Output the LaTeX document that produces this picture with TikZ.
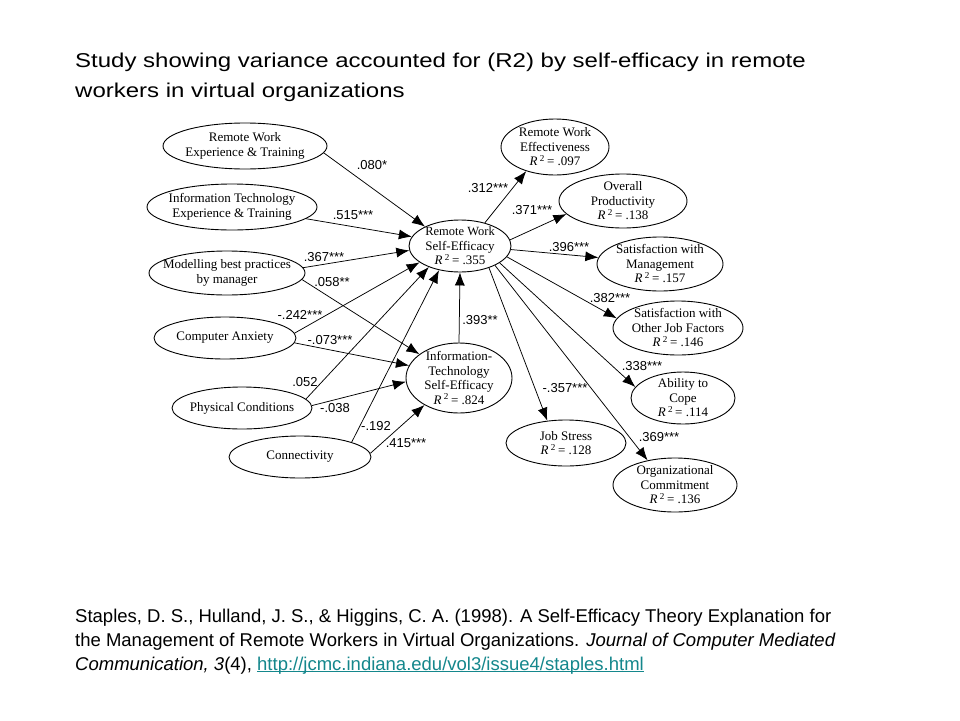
\documentclass[tikz,border=0pt]{standalone}
\usepackage{fontspec}
\setmainfont{Liberation Serif}
\newfontfamily\titlef[FakeStretch=1.2]{Liberation Sans}
\newfontfamily\citef{Liberation Sans}
\newfontfamily\labf{Liberation Sans}
\usetikzlibrary{shapes.geometric,arrows.meta}
\definecolor{linkcol}{RGB}{20,135,140}
\newcommand\ellipsenode[5]{%
  \node[ellshape, minimum width=#3pt, minimum height=#4pt] (#1) at (#2) {};
  \node[elltext] (#1-t) at (#1) {#5};
}
\newcommand\Rsq{\textit{R}\,\textsuperscript{2}\,=}
\begin{document}
\begin{tikzpicture}[x=1pt,y=-1pt,
  ellshape/.style={draw,ellipse,inner sep=0pt,line width=0.9pt},
  elltext/.style={align=center,inner sep=0pt,font=\fontsize{13}{14.5}\selectfont},
  arr/.style={-{Latex[length=13pt,width=10pt]},line width=0.75pt},
  lab/.style={font=\labf\fontsize{13}{15}\selectfont,inner sep=0pt},
  titl/.style={anchor=base west,inner sep=0pt,font=\titlef\fontsize{20}{30}\selectfont},
  cit/.style={anchor=base west,inner sep=0pt,font=\citef\fontsize{18.5}{24}\selectfont}]
\useasboundingbox[fill=white] (0,0) rectangle (960,720);

% title
\node[titl] (t1) at (75,67) {Study showing variance accounted for (R2) by self-efficacy in remote};
\node[titl] (t2) at (75,97) {workers in virtual organizations};

% left nodes
\ellipsenode{A}{245,146}{164}{46}{Remote Work\\Experience \& Training}
\ellipsenode{B}{232,207}{170}{46}{Information Technology\\Experience \& Training}
\ellipsenode{C}{227,273}{156}{44}{Modelling best practices\\by manager}
\ellipsenode{D}{225,338}{142}{42}{Computer Anxiety}
\ellipsenode{E}{242,408}{140}{42}{Physical Conditions}
\ellipsenode{F}{300,457}{142}{42}{Connectivity}

% central nodes
\ellipsenode{S}{460,246}{102}{52}{\fontsize{12.5}{13}\selectfont Remote Work\\Self-Efficacy\\\Rsq{} .355}
\ellipsenode{I}{459,378}{106}{70}{Information-\\Technology\\Self-Efficacy\\\Rsq{} .824}

% right nodes
\ellipsenode{O1}{555,147}{108}{56}{Remote Work\\Effectiveness\\\Rsq{} .097}
\ellipsenode{O2}{623,201}{128}{54}{Overall\\Productivity\\\Rsq{} .138}
\ellipsenode{O3}{660,264}{126}{54}{Satisfaction with\\Management\\\Rsq{} .157}
\ellipsenode{O4}{678,328}{130}{54}{Satisfaction with\\Other Job Factors\\\Rsq{} .146}
\ellipsenode{O5}{683,398}{104}{52}{Ability to\\Cope\\\Rsq{} .114}
\ellipsenode{O6}{675,485}{124}{54}{Organizational\\Commitment\\\Rsq{} .136}
\ellipsenode{J}{566,443}{120}{46}{Job Stress\\\Rsq{} .128}

% arrows into S
\draw[arr] (A.-5) -- (S.151);
\draw[arr] (B.-9) -- (S.169);
\draw[arr] (C.4) -- (S.185);
\draw[arr] (D.4) -- (S.202);
\draw[arr] (E.8) -- (S.214);
\draw[arr] (F.16) -- (S.229);
% arrows into I
\draw[arr] (C.-5) -- (I.149);
\draw[arr] (D.-4) -- (I.166);
\draw[arr] (E.2) -- (I.184);
\draw[arr] (F.3) -- (I.218);
\draw[arr] (I.north) -- (S.south);
% arrows out of S
\draw[arr] (S.43) -- (O1.220);
\draw[arr] (S.7) -- (O2.193);
\draw[arr] (S.-4) -- (O3.174);
\draw[arr] (S.-13) -- (O4.171);
\draw[arr] (S.-23) -- (O5.167);
\draw[arr] (S.-29) -- (O6.138);
\draw[arr] (S.-37) -- (J.130);

% labels
\node[lab] (l1) at (372,165) {.080*};
\node[lab] (l2) at (353,215) {.515***};
\node[lab] (l3) at (324,257) {.367***};
\node[lab] (l4) at (332,282) {.058**};
\node[lab] (l5) at (300,315) {-.242***};
\node[lab] (l6) at (330,340) {-.073***};
\node[lab] (l7) at (305,382) {.052};
\node[lab] (l8) at (335,408) {-.038};
\node[lab] (l9) at (376,426) {-.192};
\node[lab] (l10) at (406,443) {.415***};
\node[lab] (l11) at (480,320) {.393**};
\node[lab] (l12) at (488,188) {.312***};
\node[lab] (l13) at (532,210) {.371***};
\node[lab] (l14) at (569,247) {.396***};
\node[lab] (l15) at (610,298) {.382***};
\node[lab] (l16) at (642,366) {.338***};
\node[lab] (l17) at (565,388) {-.357***};
\node[lab] (l18) at (659,437) {.369***};

% citation
\node[cit] (c1) at (75,622) {Staples, D. S., Hulland, J. S., \& Higgins, C. A. (1998). A Self-Efficacy Theory Explanation for};
\node[cit] (c2) at (75,646) {the Management of Remote Workers in Virtual Organizations. \textit{Journal of Computer Mediated}};
\node[cit] (c3) at (75,670) {\textit{Communication, 3}(4), \textcolor{linkcol}{\underline{\smash{http://jcmc.indiana.edu/vol3/issue4/staples.html}}}};
\end{tikzpicture}
\end{document}
